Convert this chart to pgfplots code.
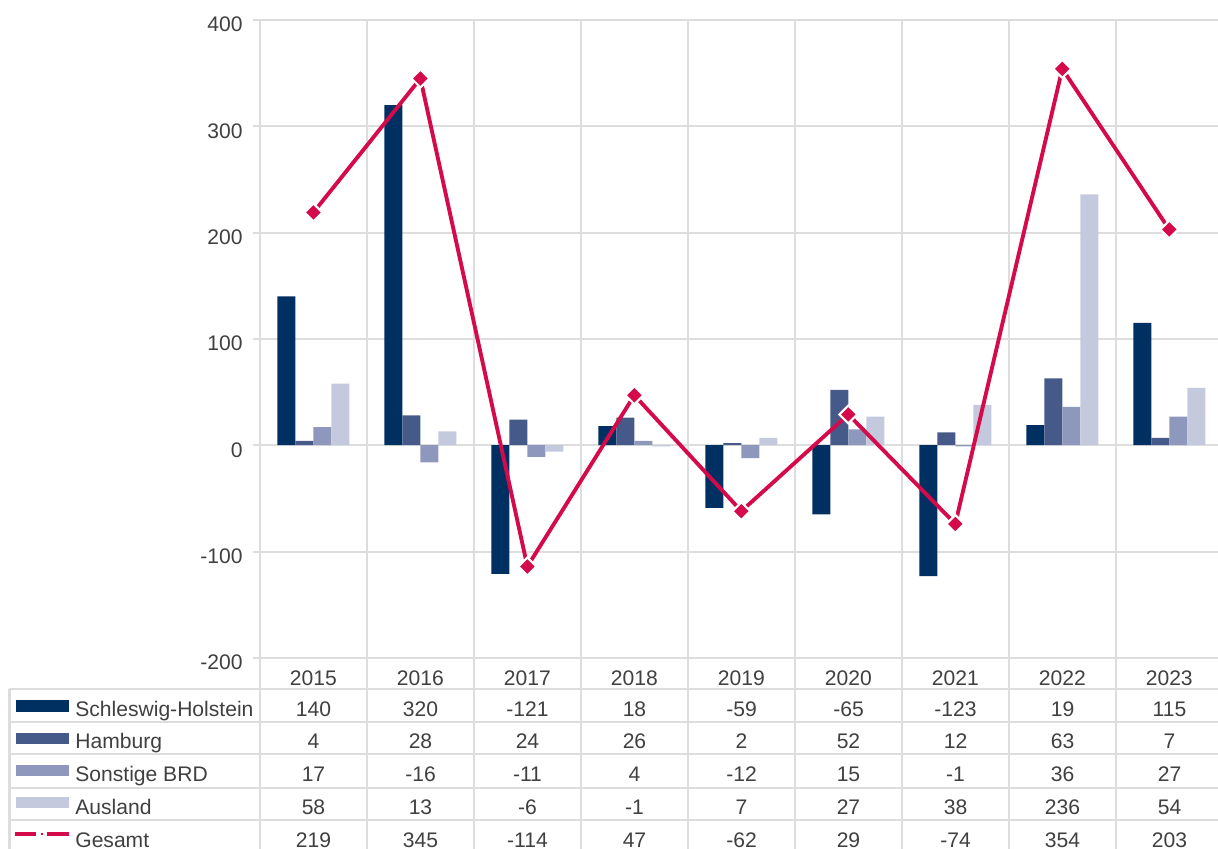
\documentclass[border=0pt]{standalone}
\usepackage{pgfplots}
\pgfplotsset{compat=1.18}
\usepackage{pgfplotstable}
\usepackage{fontspec}
\setmainfont{Liberation Sans}
\definecolor{cSH}{RGB}{0,48,98}
\definecolor{cHH}{RGB}{70,90,138}
\definecolor{cSO}{RGB}{142,152,188}
\definecolor{cAU}{RGB}{196,201,221}
\definecolor{cGE}{RGB}{213,10,75}
\definecolor{grd}{RGB}{221,221,221}
\definecolor{txt}{RGB}{64,64,64}

\pgfplotstableread{
year sh hh so au ges
2015 140 4 17 58 219
2016 320 28 -16 13 345
2017 -121 24 -11 -6 -114
2018 18 26 4 -1 47
2019 -59 2 -12 7 -62
2020 -65 52 15 27 29
2021 -123 12 -1 38 -74
2022 19 63 36 236 354
2023 115 7 27 54 203
}\data

\begin{document}
\begin{tikzpicture}[font=\fontsize{12}{14}\selectfont, text=txt]
\begin{axis}[
  scale only axis, width=19.26cm, height=12.76cm,
  xmin=-0.5, xmax=8.5, ymin=-200, ymax=400,
  clip=false,
  axis line style={draw=grd, line width=1.2pt},
  xtick={0,...,8},
  xticklabels from table={\data}{year},
  x tick style={draw=none},
  xticklabel style={anchor=base, yshift=-0.42cm, inner sep=0pt, text=txt},
  minor xtick={-0.5,0.5,...,8.5},
  xminorgrids,
  minor x tick style={draw=none},
  ytick={-200,-100,...,400},
  yticklabels={-200,-100,0,100,200,300,400},
  ymajorgrids,
  grid style={draw=grd, line width=1.2pt},
  minor grid style={draw=grd, line width=1.2pt},
  tick align=outside,
  major tick length=0.14cm,
  y tick style={draw=grd, line width=1.2pt},
  yticklabel style={anchor=base east, inner sep=0pt, text=txt},
  yticklabel shift=0.2cm,
  every y tick label/.append style={yshift=-0.24cm},
]
\addplot[ybar, bar width=0.36cm, bar shift=-0.54cm, fill=cSH, draw=none] table[x expr=\coordindex, y=sh]{\data};
\addplot[ybar, bar width=0.36cm, bar shift=-0.18cm, fill=cHH, draw=none] table[x expr=\coordindex, y=hh]{\data};
\addplot[ybar, bar width=0.36cm, bar shift=0.18cm, fill=cSO, draw=none] table[x expr=\coordindex, y=so]{\data};
\addplot[ybar, bar width=0.36cm, bar shift=0.54cm, fill=cAU, draw=none] table[x expr=\coordindex, y=au]{\data};
\addplot[sharp plot, color=cGE, line width=2.2pt, mark=square*, mark size=3.6pt,
  mark options={fill=cGE, draw=white, line width=1.2pt, solid, rotate=45}]
  table[x expr=\coordindex, y=ges]{\data};
\end{axis}
\begin{scope}[x=0.02cm, y=-0.02cm, shift={(-5.2cm,13.16cm)}]
  \foreach \yy in {689,722,754,788,820}
    \draw[grd, line width=1.3pt] (9.5,\yy) -- (1230,\yy);
  \draw[grd, line width=1.3pt] (9.5,689) -- (9.5,860);
  \foreach \i in {0,...,9}
    \draw[grd, line width=1.2pt] ({260+107*\i},658) -- ({260+107*\i},860);
  \fill[cSH] (16,700) rectangle (69,712);
  \fill[cHH] (16,733) rectangle (69,744);
  \fill[cSO] (16,765) rectangle (69,776);
  \fill[cAU] (16,797) rectangle (69,808);
  \draw[cGE, line width=2.2pt] (15,834) -- (36,834);
  \draw[cGE, line width=1.2pt] (41,834) -- (43,834);
  \draw[cGE, line width=2.2pt] (47,834) -- (69,834);
  \node[anchor=base west, inner sep=0pt] at (75,716) {Schleswig-Holstein};
  \node[anchor=base west, inner sep=0pt] at (75,749) {Hamburg};
  \node[anchor=base west, inner sep=0pt] at (75,781) {Sonstige BRD};
  \node[anchor=base west, inner sep=0pt] at (75,814) {Ausland};
  \node[anchor=base west, inner sep=0pt] at (75,847) {Gesamt};
  \foreach \c/\b in {sh/716,hh/749,so/781,au/814,ges/847}{
    \foreach \i in {0,...,8}{
      \pgfplotstablegetelem{\i}{\c}\of\data
      \node[anchor=base, inner sep=0pt] at ({313.5+107*\i},\b) {\pgfplotsretval};
    }
  }
  \pgfresetboundingbox
  \path[use as bounding box] (0,0) rectangle (1218,849);
\end{scope}
\end{tikzpicture}
\end{document}
